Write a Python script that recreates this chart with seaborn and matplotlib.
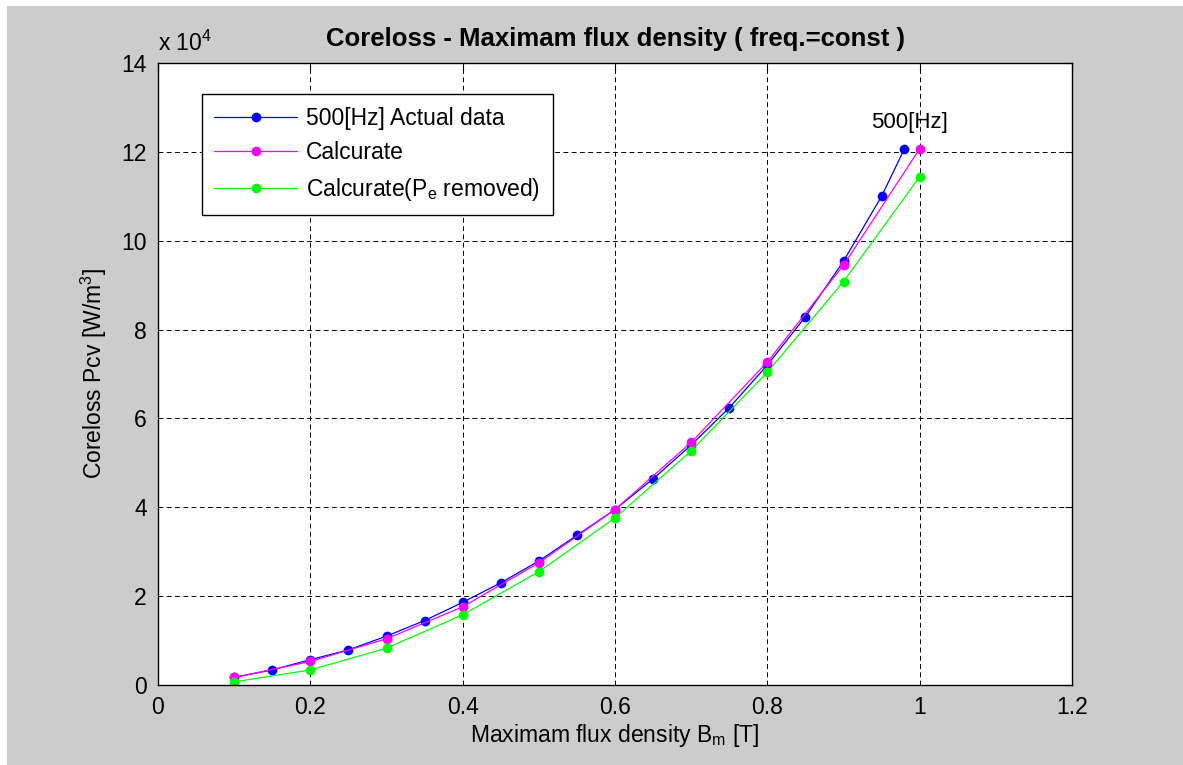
import matplotlib
matplotlib.use("Agg")
import matplotlib.pyplot as plt
import seaborn as sns
import pandas as pd
from matplotlib.patches import Rectangle
from matplotlib.ticker import FormatStrFormatter

# Coreloss values in units of 1e4 W/m^3
actual_b = [0.10, 0.15, 0.20, 0.25, 0.30, 0.35, 0.40, 0.45, 0.50, 0.55,
            0.60, 0.65, 0.70, 0.75, 0.80, 0.85, 0.90, 0.95, 0.98]
actual_p = [0.17, 0.34, 0.57, 0.79, 1.10, 1.45, 1.86, 2.30, 2.79, 3.37,
            3.95, 4.64, 5.40, 6.24, 7.20, 8.29, 9.54, 11.00, 12.07]

calc_b = [0.1, 0.2, 0.3, 0.4, 0.5, 0.6, 0.7, 0.8, 0.9, 1.0]
calc_p = [0.17, 0.53, 1.04, 1.76, 2.75, 3.95, 5.46, 7.27, 9.45, 12.07]
calc_no_pe_p = [0.07, 0.34, 0.83, 1.58, 2.55, 3.76, 5.27, 7.04, 9.08, 11.44]

x_ticks = [0, 0.2, 0.4, 0.6, 0.8, 1.0, 1.2]
y_ticks = [0, 2, 4, 6, 8, 10, 12, 14]

sns.set_style("white")
plt.rcParams['font.family'] = ['Liberation Sans', 'DejaVu Sans']
plt.rcParams['mathtext.default'] = 'regular'
plt.rcParams['text.color'] = 'black'
plt.rcParams['axes.labelcolor'] = 'black'

fs = 16.5

fig = plt.figure(figsize=(11.83, 7.65), dpi=100, facecolor='white')
# grey figure background with a thin white strip on top/left
fig.patches.append(Rectangle((7 / 1183, 0), 1, 759 / 765, transform=fig.transFigure,
                             facecolor='#cccccc', edgecolor='none', zorder=-10))
ax = fig.add_axes([158 / 1183, 80 / 765, 914 / 1183, 622 / 765])
ax.set_facecolor('white')

df_actual = pd.DataFrame({'B': actual_b, 'P': actual_p})
df_calc = pd.DataFrame({'B': calc_b, 'P': calc_p, 'P_no_pe': calc_no_pe_p})

line_kw = dict(marker='o', markersize=7, linewidth=0.9, markeredgewidth=0)
sns.lineplot(data=df_actual, x='B', y='P', color='#0000ff', ax=ax,
             label='500[Hz] Actual data', **line_kw)
sns.lineplot(data=df_calc, x='B', y='P', color='#ff00ff', ax=ax,
             label='Calcurate', **line_kw)
sns.lineplot(data=df_calc, x='B', y='P_no_pe', color='#00ff00', ax=ax,
             label='Calcurate(P$_e$ removed)', **line_kw)

ax.set_xlim(0, 1.2)
ax.set_ylim(0, 14)
ax.set_xticks(x_ticks)
ax.set_yticks(y_ticks)
ax.xaxis.set_major_formatter(FormatStrFormatter('%g'))
ax.yaxis.set_major_formatter(FormatStrFormatter('%g'))
ax.tick_params(direction='in', length=5, width=0.8, labelsize=fs, colors='black',
               top=True, right=True, pad=8)

ax.grid(True, color='black', linestyle=(0, (5, 3.5)), linewidth=0.7)
for s in ax.spines.values():
    s.set_color('black')
    s.set_linewidth(1.0)
    s.set_visible(True)

ax.set_title('Coreloss - Maximam flux density ( freq.=const )',
             fontsize=18.5, fontweight='bold', pad=12, color='black')
ax.set_xlabel('Maximam flux density B$_m$ [T]', fontsize=fs)
ax.set_ylabel('Coreloss Pcv [W/m$^3$]', fontsize=fs)
ax.xaxis.set_label_coords(0.5, -0.06)
ax.yaxis.set_label_coords(-0.054, 0.5)

ax.text(0.0, 1.012, 'x 10$^4$', transform=ax.transAxes, fontsize=fs,
        ha='left', va='bottom')
ax.text(0.987, 12.66, '500[Hz]', fontsize=16, ha='center', va='center')

leg = ax.legend(loc='upper left', bbox_to_anchor=(0.048, 0.950), fontsize=fs,
                frameon=True, fancybox=False, shadow=False, handlelength=3.6,
                borderpad=0.55, labelspacing=0.5, handletextpad=0.4,
                borderaxespad=0)
leg.get_frame().set_edgecolor('black')
leg.get_frame().set_linewidth(1.0)
leg.get_frame().set_alpha(1)

fig.savefig('out.png', dpi=100, facecolor=fig.get_facecolor())
